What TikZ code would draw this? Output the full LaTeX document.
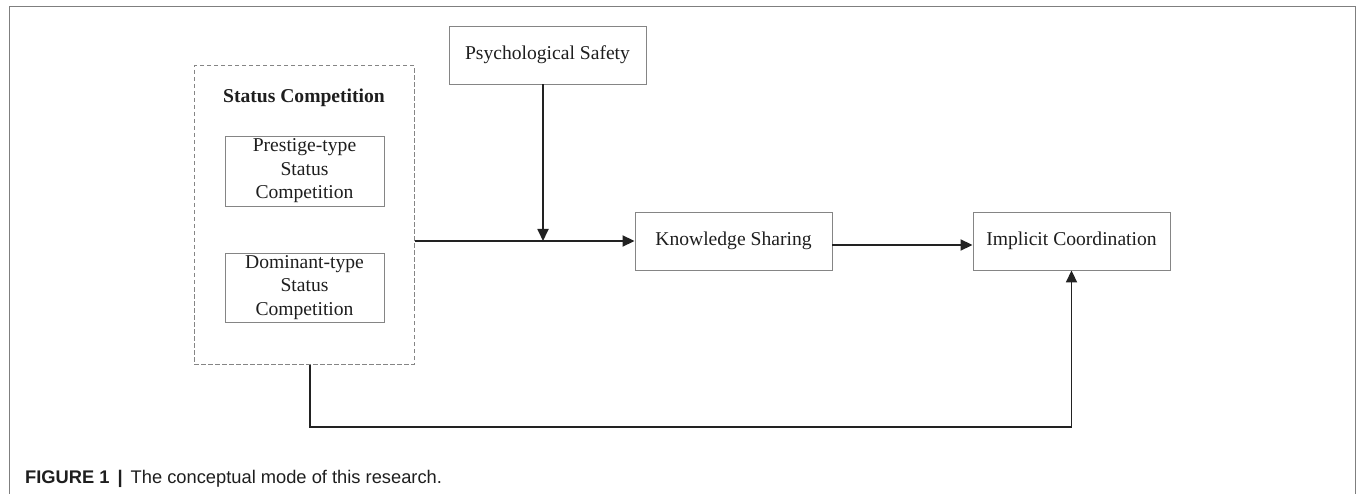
\documentclass[tikz,border=0pt]{standalone}
\usepackage{fontspec}
\setmainfont{Liberation Serif}
\newfontfamily\capfont{Liberation Sans}
\usetikzlibrary{arrows.meta}
\definecolor{boxgray}{HTML}{858585}
\definecolor{linedark}{HTML}{222222}
\definecolor{framegray}{HTML}{7F7F7F}
\definecolor{txt}{HTML}{1E1E1E}
\begin{document}
\begin{tikzpicture}[x=1pt,y=-1pt,
  box/.style={draw=boxgray, line width=0.9pt, minimum width=197pt, minimum height=58pt,
    inner sep=0pt, text=txt, font=\fontsize{19.6}{23.5}\selectfont, align=center},
  subbox/.style={box, minimum width=159pt, minimum height=70pt},
  group/.style={draw=boxgray, line width=1pt, dash pattern=on 4.5pt off 2.5pt,
    minimum width=220pt, minimum height=298pt, inner sep=0pt},
  conn/.style={draw=linedark, line width=1.8pt, -{Triangle[length=12pt,width=11pt]}},
]
\useasboundingbox (0,0) rectangle (1357,494);
\draw[framegray, line width=1pt] (9,494) -- (9,7) -- (1355,7) -- (1355,494);

\node[group] (grp) at (304,215) {};
\node[text=txt, font=\bfseries\fontsize{19.6}{23}\selectfont] (sclabel) at (304,98) {Status Competition};
\node[subbox] (pres) at (304.5,171) {Prestige-type\\Status\\Competition};
\node[subbox, minimum height=69pt] (dom) at (304.5,287.5) {Dominant-type\\Status\\Competition};

\node[box] (psych) at (547.5,55) {Psychological Safety};
\node[box] (ks) at (733.5,241) {Knowledge Sharing};
\node[box] (ic) at (1071.5,241) {Implicit Coordination};

\coordinate (pj) at (543,241);
\coordinate (bl) at (310,427);

\draw[conn] (grp.east |- ks.west) -- (ks.west);
\draw[conn] (psych.south -| pj) -- (pj);
\draw[conn] ([yshift=-4pt]ks.east) -- ([yshift=-4pt]ic.west);
\draw[conn] (grp.south -| bl) -- (bl) -- (bl -| ic.south) -- (ic.south);

\node[anchor=west, text=txt, font=\capfont\fontsize{18.3}{20}\selectfont, inner sep=0pt] (cap) at (25,479)
  {\textbf{FIGURE 1}\hspace{8pt}\textbf{|}\hspace{8pt}The conceptual mode of this research.};
\end{tikzpicture}
\end{document}
